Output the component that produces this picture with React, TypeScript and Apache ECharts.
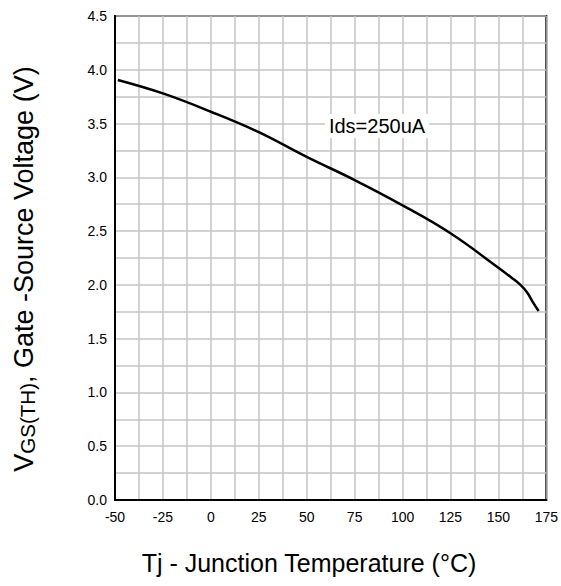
import React, { useEffect, useRef } from "react";
import * as echarts from "echarts";

const temps = [-48.5, -25, 0, 25, 50, 75, 100, 125, 150, 157, 161.5, 165, 168.3, 171];
const vgs = [3.905, 3.78, 3.61, 3.42, 3.19, 2.975, 2.74, 2.48, 2.16, 2.065, 2.0, 1.93, 1.83, 1.757];
const xTitle = "Tj - Junction Temperature (°C)";
const yTitleMain = "V";
const yTitleSub = "GS(TH)";
const yTitleRest = ", Gate -Source Voltage (V)";
const annotation = "Ids=250uA";

export default function App() {
  const ref = useRef<HTMLDivElement>(null);
  useEffect(() => {
    if (!ref.current) return;
    const chart = echarts.init(ref.current, null, { renderer: "svg" });
    const font = "'Liberation Sans', Arial, sans-serif";
    chart.setOption({
      animation: false,
      backgroundColor: "#fff",
      grid: {
        left: 115,
        top: 16,
        right: 10,
        bottom: 86,
        show: true,
        borderColor: "#000",
        borderWidth: 2,
        containLabel: false,
      },
      xAxis: {
        type: "value",
        min: -50,
        max: 175,
        interval: 12.5,
        axisLine: { show: true, onZero: false, lineStyle: { color: "#000", width: 2 } },
        axisTick: { show: false },
        splitLine: { show: true, lineStyle: { color: "#c4c4c4", width: 1.5 } },
        axisLabel: {
          margin: 10,
          color: "#000",
          fontSize: 14,
          fontFamily: font,
          formatter: (v: number) => (Math.abs(v % 25) < 1e-6 ? String(v) : ""),
        },
      },
      yAxis: {
        type: "value",
        min: 0,
        max: 4.5,
        interval: 0.25,
        axisLine: { show: true, onZero: false, lineStyle: { color: "#000", width: 2 } },
        axisTick: { show: false },
        splitLine: { show: true, lineStyle: { color: "#c4c4c4", width: 1.5 } },
        axisLabel: {
          margin: 8,
          color: "#000",
          fontSize: 14,
          fontFamily: font,
          formatter: (v: number) =>
            Math.abs(Math.round(v * 2) - v * 2) < 1e-6 ? v.toFixed(1) : "",
        },
      },
      series: [
        {
          type: "line",
          data: temps.map((t, i) => [t, vgs[i]]),
          showSymbol: false,
          smooth: 0.4,
          lineStyle: { color: "#000", width: 2.5 },
        },
      ],
      graphic: [
        {
          type: "text",
          x: 377,
          y: 126,
          z: 100,
          style: {
            text: annotation,
            fill: "#000",
            font: `20px ${font}`,
            align: "center",
            verticalAlign: "middle",
            backgroundColor: "#fff",
            padding: [2, 4],
          },
        },
        {
          type: "text",
          x: 309,
          y: 563,
          style: {
            text: xTitle,
            fill: "#000",
            font: `25px ${font}`,
            align: "center",
            verticalAlign: "middle",
          },
        },
        {
          type: "text",
          x: 22,
          y: 269,
          rotation: Math.PI / 2,
          style: {
            text: `{a|${yTitleMain}}{b|${yTitleSub}}{a|${yTitleRest}}`,
            align: "center",
            verticalAlign: "middle",
            rich: {
              a: { fontSize: 27, fontFamily: font, fill: "#000", verticalAlign: "bottom", lineHeight: 31 },
              b: { fontSize: 20.5, fontFamily: font, fill: "#000", verticalAlign: "bottom", lineHeight: 31 },
            },
          },
        },
      ],
    });
    return () => chart.dispose();
  }, []);
  return <div ref={ref} style={{ width: 561, height: 586, position: "absolute", left: 0, top: 0 }} />;
}
